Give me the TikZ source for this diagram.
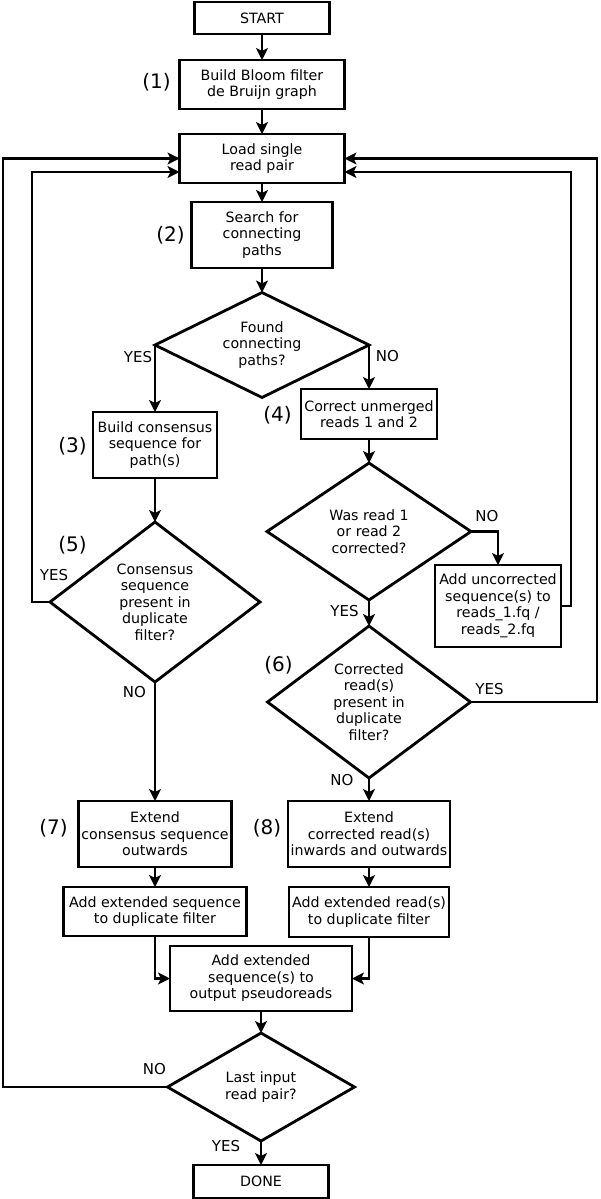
\documentclass[tikz,border=0pt]{standalone}
\usepackage{fontspec}
\setmainfont{DejaVu Sans}
\usetikzlibrary{shapes.geometric,arrows.meta}
\begin{document}
\begin{tikzpicture}[x=1pt,y=-1pt,
  every node/.style={inner sep=0pt, outer sep=0pt},
  box/.style={draw, line width=2.8pt, rectangle, align=center, font=\fontsize{14.2}{16.5}\selectfont},
  dec/.style={draw, line width=2.8pt, diamond, align=center, font=\fontsize{14.2}{16.5}\selectfont},
  num/.style={font=\fontsize{20}{22}\selectfont},
  lab/.style={font=\fontsize{15}{17}\selectfont},
  arr/.style={line width=2.8pt, -{Stealth[length=12pt,width=12pt,inset=3pt]}}
]
\useasboundingbox (0,0) rectangle (600,1199);
\fill[white] (0,0) rectangle (600,1199);

% main column
\node[box, minimum width=135pt, minimum height=32pt] (start) at (262,18) {START};
\node[box, minimum width=165pt, minimum height=49pt] (bloom) at (262,84.5) {Build Bloom filter\\de Bruijn graph};
\node[box, minimum width=165pt, minimum height=49pt] (load) at (262,158.5) {Load single\\read pair};
\node[box, minimum width=141pt, minimum height=66pt] (search) at (262,235) {Search for\\connecting\\paths};
\node[dec, minimum width=214pt, minimum height=105pt, shape aspect=2.04] (found) at (262,345) {Found\\connecting\\paths?};

% left column
\node[box, minimum width=124pt, minimum height=66pt] (cons) at (155,445) {Build consensus\\sequence for\\path(s)};
\node[dec, minimum width=210pt, minimum height=160pt, shape aspect=1.31] (dup5) at (155,602) {Consensus\\sequence\\present in\\duplicate\\filter?};
\node[box, minimum width=153pt, minimum height=66pt] (ext7) at (155,834) {Extend\\consensus sequence\\outwards};
\node[box, minimum width=183pt, minimum height=49pt] (addseq) at (155,911.5) {Add extended sequence\\to duplicate filter};

% right column
\node[box, minimum width=136pt, minimum height=50pt] (corr) at (369,414) {Correct unmerged\\reads 1 and 2};
\node[dec, minimum width=204pt, minimum height=137pt, shape aspect=1.49] (was) at (369,531.5) {Was read 1\\or read 2\\corrected?};
\node[box, minimum width=126pt, minimum height=82pt] (uncorr) at (498,606) {Add uncorrected\\sequence(s) to\\reads\_1.fq /\\reads\_2.fq};
\node[dec, minimum width=203pt, minimum height=152pt, shape aspect=1.34] (dup6) at (369,702) {Corrected\\read(s)\\present in\\duplicate\\filter?};
\node[box, minimum width=162pt, minimum height=66pt] (ext8) at (369,834) {Extend\\corrected read(s)\\inwards and outwards};
\node[box, minimum width=160pt, minimum height=50pt] (addread) at (369,912) {Add extended read(s)\\to duplicate filter};

% bottom
\node[box, minimum width=182pt, minimum height=65pt] (out) at (261,978.5) {Add extended\\sequence(s) to\\output pseudoreads};
\node[dec, minimum width=187pt, minimum height=108pt, shape aspect=1.73] (last) at (261,1087) {Last input\\read pair?};
\node[box, minimum width=135pt, minimum height=33pt] (done) at (261,1181.5) {DONE};

% step numbers
\node[num] (n1) at (156.5,82.5) {(1)};
\node[num] (n2) at (170.5,235) {(2)};
\node[num] (n3) at (72.5,446.5) {(3)};
\node[num] (n4) at (277.5,415) {(4)};
\node[num] (n5) at (72.5,545.5) {(5)};
\node[num] (n6) at (278.5,665.5) {(6)};
\node[num] (n7) at (53.5,828.5) {(7)};
\node[num] (n8) at (267,828.5) {(8)};

% YES / NO labels
\node[lab] (l1y) at (138,357.5) {YES};
\node[lab] (l1n) at (387.5,356) {NO};
\node[lab] (l2n) at (487,516) {NO};
\node[lab] (l2y) at (344.5,611) {YES};
\node[lab] (l5y) at (54,575) {YES};
\node[lab] (l5n) at (134.5,692.5) {NO};
\node[lab] (l6y) at (489.5,689) {YES};
\node[lab] (l6n) at (342,780.5) {NO};
\node[lab] (lln) at (154.5,1069) {NO};
\node[lab] (lly) at (226,1146.5) {YES};

% loop coordinates
\coordinate (loadL2) at ([yshift=-13.5pt]load.west);
\coordinate (loadR2) at ([yshift=-13.5pt]load.east);
\coordinate (xL1) at (3,0);
\coordinate (xL2) at (32,0);
\coordinate (xR2) at (571,0);
\coordinate (xR1) at (597,0);

% connectors
\draw[arr] (start) -- (bloom);
\draw[arr] (bloom) -- (load);
\draw[arr] (load) -- (search);
\draw[arr] (search) -- (found);
\draw[arr] (found.west) -| (cons.north);
\draw[arr] (found.east) -| (corr.north);
\draw[arr] (cons.south) -- (dup5.north);
\draw[arr] (corr.south) -- (was.north);
\draw[arr] (was.east) -| (uncorr.north);
\draw[arr] (was.south) -- (dup6.north);
\draw[arr] (dup5.south) -- (ext7.north);
\draw[arr] (dup6.south) -- (ext8.north);
\draw[arr] (ext7) -- (addseq);
\draw[arr] (ext8) -- (addread);
\draw[arr] (addseq.south) |- (out.west);
\draw[arr] (addread.south) |- (out.east);
\draw[arr] (out) -- (last);
\draw[arr] (last) -- (done);

\draw[arr] (dup5.west) -- (dup5.west -| xL2) -- (xL2 |- loadL2) -- (loadL2);
\draw[arr] (last.west) -- (last.west -| xL1) -- (xL1 |- load.west) -- (load.west);
\draw[arr] (uncorr.east) -- (uncorr.east -| xR2) -- (xR2 |- loadR2) -- (loadR2);
\draw[arr] (dup6.east) -- (dup6.east -| xR1) -- (xR1 |- load.east) -- (load.east);
\end{tikzpicture}
\end{document}
